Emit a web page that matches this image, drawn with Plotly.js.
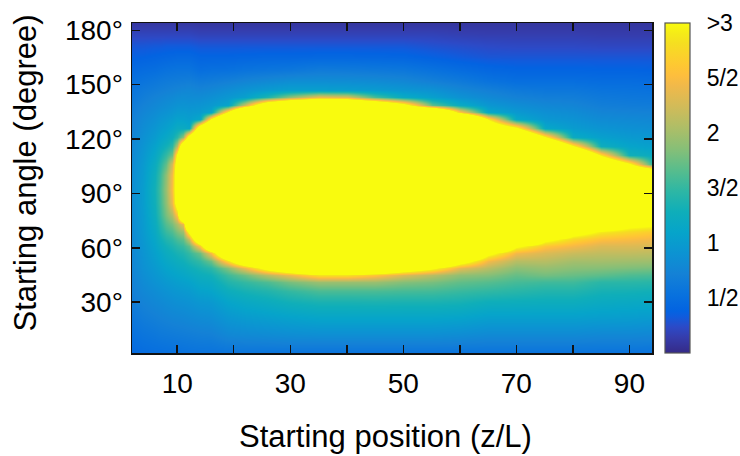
<!DOCTYPE html>
<html>
<head>
<meta charset="utf-8">
<script src="https://cdn.plot.ly/plotly-3.0.1.min.js"></script>
<style>html,body{margin:0;padding:0;background:#fff;}#chart{width:740px;height:456px;}</style>
</head>
<body>
<div id="chart"></div>
<script>
// Starting position (z/L) grid, starting angle (degree) grid
const xs = [2,4,6,7,8,9,10,11,12,14,16,19,22,26,30,35,40,45,50,55,60,65,70,75,80,85,90,94];
const ys = [2,12,22,30,36,41,45,49,53,57,61,65,69,73,78,85,92,100,106,111,116,121,126,131,135,139,143,147,152,158,165,172,178,184];

// one column of values (bottom to top) per starting position
const z_x02 = [0.45,0.53,0.6,0.66,0.7,0.72,0.74,0.76,0.77,0.78,0.8,0.81,0.82,0.83,0.84,0.85,0.85,0.84,0.82,0.8,0.78,0.75,0.72,0.7,0.67,0.64,0.6,0.57,0.52,0.45,0.37,0.3,0.2,0.1];
const z_x04 = [0.48,0.57,0.66,0.73,0.78,0.82,0.85,0.88,0.9,0.92,0.94,0.96,0.98,0.99,1.0,1.02,1.02,1.0,0.98,0.95,0.92,0.88,0.84,0.8,0.76,0.72,0.67,0.63,0.56,0.48,0.38,0.3,0.2,0.1];
const z_x06 = [0.5,0.6,0.7,0.78,0.84,0.9,0.94,0.98,1.02,1.06,1.1,1.14,1.18,1.22,1.26,1.3,1.32,1.28,1.22,1.15,1.08,1.0,0.94,0.88,0.83,0.78,0.73,0.67,0.6,0.5,0.4,0.31,0.2,0.1];
const z_x07 = [0.5,0.62,0.72,0.8,0.87,0.93,0.98,1.03,1.08,1.13,1.2,1.27,1.35,1.42,1.5,1.55,1.57,1.52,1.42,1.3,1.18,1.08,1.0,0.93,0.87,0.81,0.75,0.69,0.62,0.52,0.41,0.31,0.2,0.1];
const z_x08 = [0.51,0.63,0.74,0.83,0.9,0.97,1.03,1.09,1.15,1.22,1.3,1.4,1.52,1.65,1.8,1.9,1.95,1.9,1.7,1.5,1.3,1.15,1.05,0.97,0.9,0.84,0.78,0.71,0.64,0.54,0.42,0.32,0.2,0.1];
const z_x09 = [0.52,0.64,0.76,0.85,0.93,1.0,1.07,1.13,1.2,1.28,1.37,1.48,1.62,1.8,2.05,2.4,2.5,2.45,2.25,1.75,1.45,1.25,1.12,1.02,0.94,0.87,0.8,0.73,0.65,0.55,0.43,0.32,0.2,0.1];
const z_x10 = [0.52,0.65,0.77,0.87,0.95,1.03,1.1,1.17,1.25,1.34,1.45,1.6,1.8,2.05,2.6,3.4,3.5,3.5,3.4,3.1,2.1,1.45,1.2,1.07,0.98,0.9,0.83,0.75,0.66,0.56,0.44,0.32,0.2,0.1];
const z_x11 = [0.53,0.66,0.78,0.88,0.97,1.05,1.13,1.2,1.29,1.39,1.52,1.7,1.95,2.4,5,6,6,6,6,5,4,1.9,1.2,1.06,0.99,0.91,0.84,0.77,0.67,0.56,0.44,0.32,0.2,0.1];
const z_x12 = [0.54,0.67,0.8,0.9,0.99,1.08,1.17,1.26,1.37,1.5,1.7,2.2,3.15,5,5,5,5,5,5,5,5,3.45,1.15,1.03,0.97,0.9,0.83,0.78,0.68,0.56,0.44,0.32,0.2,0.1];
const z_x14 = [0.55,0.69,0.83,0.95,1.07,1.17,1.25,1.35,1.5,1.75,2.6,4.2,5,5,5,5,5,5,5,5,5,5,3.8,1.15,1.0,0.92,0.83,0.75,0.64,0.5,0.4,0.3,0.18,0.09];
const z_x16 = [0.55,0.7,0.85,0.97,1.1,1.2,1.3,1.45,1.75,2.5,4.5,5,5,5,5,5,5,5,5,5,5,5,5,3.0,1.1,0.97,0.87,0.78,0.66,0.52,0.4,0.3,0.18,0.09];
const z_x19 = [0.56,0.78,0.95,1.1,1.25,1.4,1.55,1.85,2.8,4.4,5,5,5,5,5,5,5,5,5,5,5,5,5,5,3.0,1.1,0.95,0.85,0.7,0.53,0.4,0.3,0.18,0.09];
const z_x22 = [0.57,0.8,1.0,1.17,1.33,1.5,1.75,2.4,4.0,5,5,5,5,5,5,5,5,5,5,5,5,5,5,5,5.4,2.2,1.05,0.92,0.75,0.56,0.41,0.3,0.18,0.09];
const z_x26 = [0.56,0.82,1.04,1.23,1.4,1.62,2.1,3.3,5,5,5,5,5,5,5,5,5,5,5,5,5,5,5,5,5,4,1.4,1.0,0.8,0.58,0.42,0.3,0.18,0.09];
const z_x30 = [0.56,0.84,1.08,1.3,1.5,1.8,2.4,4,5,5,5,5,5,5,5,5,5,5,5,5,5,5,5,5,5,4.8,1.9,1.05,0.85,0.6,0.42,0.3,0.18,0.09];
const z_x35 = [0.55,0.85,1.12,1.35,1.6,1.95,2.85,5,5,5,5,5,5,5,5,5,5,5,5,5,5,5,5,5,5,5.4,2.4,1.05,0.85,0.65,0.43,0.3,0.18,0.09];
const z_x40 = [0.55,0.85,1.12,1.35,1.6,1.95,2.85,5,5,5,5,5,5,5,5,5,5,5,5,5,5,5,5,5,5,5.1,2.3,1.03,0.84,0.64,0.43,0.3,0.18,0.09];
const z_x45 = [0.55,0.85,1.12,1.36,1.6,1.95,2.6,4.6,5,5,5,5,5,5,5,5,5,5,5,5,5,5,5,5,5,4.4,1.6,1.0,0.82,0.62,0.42,0.3,0.18,0.09];
const z_x50 = [0.55,0.85,1.12,1.35,1.58,1.85,2.3,3.7,5,5,5,5,5,5,5,5,5,5,5,5,5,5,5,5,5,3.3,1.2,0.95,0.78,0.6,0.41,0.3,0.18,0.09];
const z_x55 = [0.55,0.85,1.12,1.35,1.57,1.8,2.1,3.1,5,5,5,5,5,5,5,5,5,5,5,5,5,5,5,5,5.2,1.7,1.05,0.9,0.7,0.54,0.37,0.27,0.18,0.09];
const z_x60 = [0.55,0.83,1.1,1.33,1.52,1.7,1.9,2.35,3.4,5,5,5,5,5,5,5,5,5,5,5,5,5,5,5.8,2.6,1.2,0.9,0.78,0.63,0.48,0.33,0.25,0.16,0.09];
const z_x65 = [0.55,0.8,1.05,1.27,1.48,1.65,1.85,2.1,2.45,3.2,5,5,5,5,5,5,5,5,5,5,5,5,4,2.9,1.15,0.95,0.8,0.7,0.55,0.43,0.3,0.23,0.15,0.09];
const z_x70 = [0.55,0.8,1.05,1.26,1.44,1.58,1.72,1.88,2.1,2.45,3.1,5,5,5,5,5,5,5,5,5,5,5,3.1,1.15,0.97,0.85,0.72,0.63,0.5,0.4,0.3,0.22,0.15,0.09];
const z_x75 = [0.55,0.8,1.05,1.25,1.4,1.55,1.78,1.93,2.1,2.3,2.6,3.2,5,5,5,5,5,5,5,5,5,3.0,1.15,0.95,0.87,0.78,0.68,0.6,0.5,0.4,0.3,0.22,0.15,0.09];
const z_x80 = [0.55,0.8,1.05,1.25,1.4,1.55,1.73,1.87,2.0,2.2,2.45,2.75,3.3,5,5,5,5,5,5,5,3.0,1.2,1.0,0.9,0.83,0.75,0.67,0.6,0.5,0.4,0.3,0.22,0.15,0.09];
const z_x85 = [0.55,0.78,1.03,1.2,1.33,1.45,1.68,1.85,2.0,2.15,2.3,2.55,2.9,3.7,5,5,5,5,4.4,2.85,1.25,1.05,0.92,0.82,0.75,0.68,0.62,0.56,0.48,0.39,0.3,0.21,0.14,0.09];
const z_x90 = [0.55,0.78,1.02,1.18,1.32,1.45,1.62,1.82,1.98,2.15,2.3,2.5,2.75,3.2,5,5,5,5,3.1,1.3,1.1,0.98,0.88,0.8,0.73,0.66,0.6,0.55,0.48,0.39,0.3,0.21,0.14,0.09];
const z_x94 = [0.55,0.77,1.0,1.17,1.3,1.44,1.6,1.8,1.97,2.13,2.28,2.45,2.65,3.1,5,5,5,5.1,1.5,1.2,1.05,0.95,0.86,0.78,0.72,0.65,0.59,0.54,0.47,0.38,0.3,0.21,0.14,0.09];

// axis ticks
const xTickVals = [10,20,30,40,50,60,70,80,90];
const xTickText = ['10','','30','','50','','70','','90'];
const yTickVals = [30,60,90,120,150,180];
const yTickText = ['30\u00b0','60\u00b0','90\u00b0','120\u00b0','150\u00b0','180\u00b0'];
const cTickVals = [0.5,1,1.5,2,2.5,3];
const cTickText = ['1/2','1','3/2','2','5/2','>3'];
const cMin = 0, cMax = 3;

const zCols = [z_x02,z_x04,z_x06,z_x07,z_x08,z_x09,z_x10,z_x11,z_x12,z_x14,z_x16,z_x19,z_x22,z_x26,z_x30,z_x35,z_x40,z_x45,z_x50,z_x55,z_x60,z_x65,z_x70,z_x75,z_x80,z_x85,z_x90,z_x94];

const parula = [
  [0.000,'rgb(53,42,135)'],[0.048,'rgb(53,61,173)'],[0.079,'rgb(44,74,199)'],
  [0.111,'rgb(15,92,221)'],[0.127,'rgb(3,99,225)'],[0.175,'rgb(8,113,222)'],
  [0.238,'rgb(20,129,214)'],[0.302,'rgb(12,147,210)'],[0.365,'rgb(6,164,202)'],
  [0.429,'rgb(15,174,185)'],[0.492,'rgb(46,183,164)'],[0.556,'rgb(89,189,140)'],
  [0.619,'rgb(135,191,119)'],[0.683,'rgb(174,190,103)'],[0.746,'rgb(209,187,89)'],
  [0.810,'rgb(241,185,74)'],[0.841,'rgb(253,190,61)'],[0.873,'rgb(254,200,50)'],
  [0.905,'rgb(250,211,42)'],[0.937,'rgb(245,222,33)'],[0.968,'rgb(245,235,24)'],
  [1.000,'rgb(249,251,14)']
];

const FONT = 'Liberation Sans, Arial, Helvetica, sans-serif';
const cbX = 1.025, cbThick = 25, plotW = 520;

const trace = {
  type:'heatmap', x: xs, y: ys, z: zCols, transpose: true,
  zmin: cMin, zmax: cMax, colorscale: parula, zsmooth: 'best',
  hoverinfo: 'skip',
  colorbar: {
    x: cbX, xanchor: 'left', y: 0.5, yanchor: 'middle',
    len: 1, lenmode: 'fraction', thickness: cbThick, thicknessmode: 'pixels',
    xpad: 0, ypad: 0, outlinewidth: 1.2, outlinecolor: '#555',
    tickvals: cTickVals, ticktext: cTickText,
    ticks: 'outside', ticklen: 12, tickcolor: 'rgba(0,0,0,0)',
    tickfont: {family: FONT, size: 23, color: '#000'}
  }
};

// small inside dashes on both edges of the colour bar
const shapes = [];
cTickVals.slice(0, -1).forEach(v => {
  const yv = (v - cMin) / (cMax - cMin);
  const x0 = cbX, x1 = cbX + cbThick / plotW;
  shapes.push({type:'line', xref:'paper', yref:'paper', x0: x0, x1: x0 + 6/plotW, y0: yv, y1: yv, line:{color:'#444', width:1.5}});
  shapes.push({type:'line', xref:'paper', yref:'paper', x0: x1 - 6/plotW, x1: x1, y0: yv, y1: yv, line:{color:'#444', width:1.5}});
});

const axisCommon = {
  ticks: 'inside', ticklen: 8, tickwidth: 1.5, tickcolor: '#111',
  showline: true, linecolor: '#111', linewidth: 1.5, mirror: 'ticks',
  showgrid: false, zeroline: false,
  tickfont: {family: FONT, size: 28, color: '#000'}
};

const layout = {
  width: 740, height: 456,
  margin: {l: 132, r: 88, t: 23, b: 103, pad: 0, autoexpand: false},
  paper_bgcolor: '#fff', plot_bgcolor: '#fff',
  font: {family: FONT, color: '#000'},
  xaxis: Object.assign({}, axisCommon, {range: [2, 94], tickmode: 'array', tickvals: xTickVals, ticktext: xTickText, ticklabelstandoff: 5}),
  yaxis: Object.assign({}, axisCommon, {range: [2, 184], tickmode: 'array', tickvals: yTickVals, ticktext: yTickText, ticklabelstandoff: 2}),
  shapes: shapes,
  annotations: [
    {text: 'Starting position (z/L)', xref: 'paper', yref: 'paper', x: 0.488, y: -0.252, xanchor: 'center', yanchor: 'middle', showarrow: false, font: {family: FONT, size: 31, color: '#000'}},
    {text: 'Starting angle (degree)', xref: 'paper', yref: 'paper', x: -0.205, y: 0.545, xanchor: 'center', yanchor: 'middle', textangle: -90, showarrow: false, font: {family: FONT, size: 31, color: '#000'}}
  ]
};

const bad = zCols.some(c => c.length !== ys.length);
if (bad) layout.annotations.push({text: 'LENGTH MISMATCH', x: 0.5, y: 0.5, xref: 'paper', yref: 'paper', showarrow: false, font: {size: 40, color: 'red'}});

Plotly.newPlot('chart', [trace], layout, {staticPlot: true, displayModeBar: false});
</script>
</body>
</html>
